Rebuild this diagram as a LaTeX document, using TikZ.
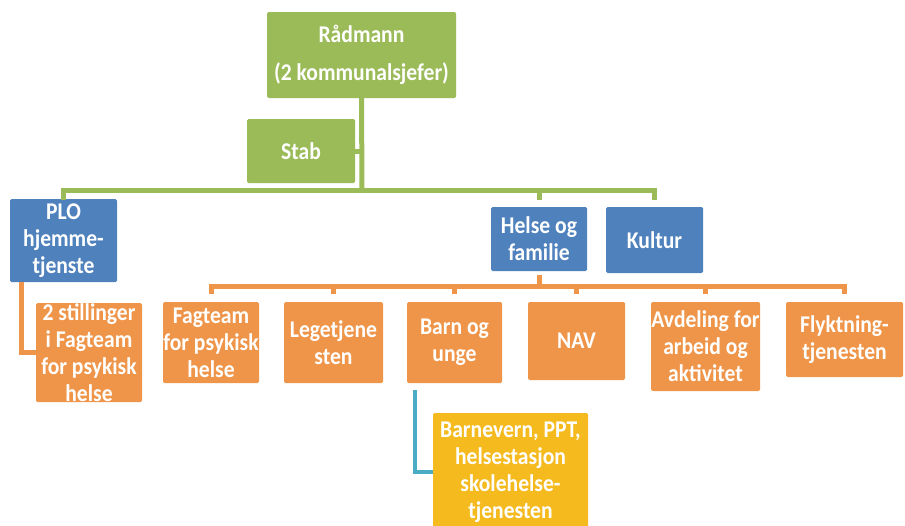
\documentclass[tikz,border=0pt]{standalone}
\usepackage{fontspec}
\setmainfont{Carlito}[FakeStretch=0.9]
\definecolor{cgreen}{HTML}{9BBB59}
\definecolor{cblue}{HTML}{4F81BD}
\definecolor{corange}{HTML}{EF9549}
\definecolor{cyellow}{HTML}{F5BA1E}
\definecolor{cteal}{HTML}{4BACC6}
\tikzset{
  boxbase/.style={inner sep=0pt, rounded corners=1.5pt},
  gbox/.style={boxbase, fill=cgreen},
  bbox/.style={boxbase, fill=cblue},
  obox/.style={boxbase, fill=corange},
  ybox/.style={boxbase, fill=cyellow},
  txt/.style={text=white, font=\bfseries\fontsize{24}{27}\selectfont, align=center, inner sep=0pt},
  gline/.style={draw=cgreen, line width=5pt},
  oline/.style={draw=corange, line width=5pt},
  tline/.style={draw=cteal, line width=4pt},
}
\begin{document}
\begin{tikzpicture}[x=1pt,y=-1pt]
\useasboundingbox (0,0) rectangle (905,525);
% boxes
\node[gbox, minimum width=189pt, minimum height=86pt] (rad) at (361.5,55) {};
\node[txt, font=\bfseries\fontsize{24}{38}\selectfont] at (rad) {Rådmann\\(2 kommunalsjefer)};
\node[gbox, minimum width=108pt, minimum height=64pt] (stab) at (301,151) {};
\node[txt] at (stab) {Stab};
\node[bbox, minimum width=107pt, minimum height=83pt] (plo) at (63.5,240.5) {};
\node[txt] at (plo) {PLO\\hjemme-\\tjenste};
\node[bbox, minimum width=96pt, minimum height=64pt] (helse) at (539,239) {};
\node[txt] at (helse) {Helse og\\familie};
\node[bbox, minimum width=97pt, minimum height=66pt] (kultur) at (654.5,240) {};
\node[txt] at (kultur) {Kultur};
\node[obox, minimum width=106pt, minimum height=99pt] (ploc) at (89,352.5) {};
\node[txt] at (ploc) {2 stillinger\\i Fagteam\\for psykisk\\helse};
\node[obox, minimum width=96pt, minimum height=81pt] (fag) at (211,342.5) {};
\node[txt] at (fag) {Fagteam\\for psykisk\\helse};
\node[obox, minimum width=99pt, minimum height=81pt] (lege) at (333.5,342.5) {};
\node[txt] at (lege) {Legetjene\\sten};
\node[obox, minimum width=95pt, minimum height=81pt] (barn) at (454.5,342.5) {};
\node[txt] at (barn) {Barn og\\unge};
\node[obox, minimum width=97pt, minimum height=78pt] (nav) at (576.5,341) {};
\node[txt] at (nav) {NAV};
\node[obox, minimum width=109pt, minimum height=89pt] (avd) at (705.5,346.5) {};
\node[txt] at (avd) {Avdeling for\\arbeid og\\aktivitet};
\node[obox, minimum width=117pt, minimum height=75pt] (fly) at (844.5,339.5) {};
\node[txt] at (fly) {Flyktning-\\tjenesten};
\node[ybox, minimum width=155pt, minimum height=118pt] (bv) at (510.5,472) {};
\node[txt] at (bv) {Barnevern, PPT,\\helsestasjon\\skolehelse-\\tjenesten};
% connectors
\coordinate (hub) at (362,190);
\coordinate (obus) at (539,286);
\draw[gline] (rad.south) -- (hub);
\draw[gline] (stab.east) -- (stab.east -| hub);
\draw[gline] (hub) -| ([yshift=-1pt]plo.north);
\draw[gline, shorten >=7pt] (hub) -| (helse.north);
\draw[gline, shorten >=7pt] (hub) -| (kultur.north);
\draw[oline, shorten <=4pt] (helse.south) -- (obus);
\foreach \n in {fag,lege,barn,nav,avd,fly}{
  \draw[oline, shorten >=8pt] (obus) -| (\n.north);
}
\draw[oline] ([xshift=12pt]plo.south west) |- (ploc.west);
\draw[tline, shorten <=7pt] ([xshift=8pt]barn.south west) |- (bv.west);
\end{tikzpicture}
\end{document}
